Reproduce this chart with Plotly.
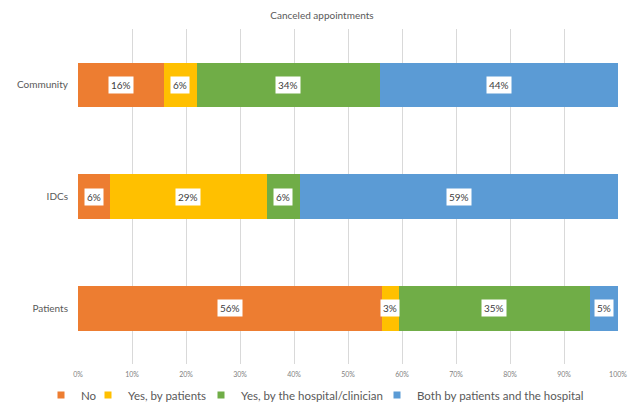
import plotly.graph_objects as go

categories = ["Community", "IDCs", "Patients"]
series_names = ["No", "Yes, by patients", "Yes, by the hospital/clinician",
                "Both by patients and the hospital"]
no_vals = [15.9, 5.9, 56.3]
yes_patients_vals = [6.1, 29.1, 3.1]
yes_hospital_vals = [33.9, 6.1, 35.4]
both_vals = [44.1, 58.9, 5.2]
series_values = [no_vals, yes_patients_vals, yes_hospital_vals, both_vals]
colors = ["#ED7D31", "#FFC000", "#70AD47", "#5B9BD5"]
tick_vals = list(range(0, 101, 10))
tick_labels = [f"{v}%" for v in tick_vals]

FONT = "Lato"
# the page body adds an 8px margin, so the figure is sized to fit the window
W, H = 628, 395

# one legend per series so each entry can sit where the reference places it
legend_ids = ["legend", "legend2", "legend3", "legend4"]
legend_left_px = [33, 80, 193, 369]

fig = go.Figure()
for name, vals, col in zip(series_names, series_values, colors):
    fig.add_trace(go.Bar(
        y=categories, x=vals, name=name, orientation="h",
        marker=dict(color=col, line=dict(width=0)),
        showlegend=False, hoverinfo="x+name",
    ))
# legend entries with small square markers
for name, col, lid in zip(series_names, colors, legend_ids):
    fig.add_trace(go.Scatter(
        x=[None], y=[None], mode="markers", name=name,
        marker=dict(symbol="square", size=7, color=col),
        showlegend=True, legend=lid,
    ))

# data labels in white boxes, placed at the centre of each segment
annotations = []
for ci, cat in enumerate(categories):
    start = 0.0
    for vals in series_values:
        v = vals[ci]
        annotations.append(dict(
            x=start + v / 2, y=cat, xref="x", yref="y",
            text=f"{round(v)}%", showarrow=False,
            bgcolor="white", borderpad=2,
            font=dict(family=FONT, size=10, color="#404040"),
        ))
        start += v

legend_layout = {}
for lid, left in zip(legend_ids, legend_left_px):
    legend_layout[lid] = dict(
        orientation="h", xref="container", yref="container",
        x=left / W, xanchor="left", y=1 - 387 / H, yanchor="middle",
        bgcolor="rgba(0,0,0,0)",
        font=dict(family=FONT, size=11.5, color="#595959"),
        itemwidth=30, tracegroupgap=0,
    )

fig.update_layout(
    width=W, height=H,
    barmode="stack", bargap=0.6,
    plot_bgcolor="white", paper_bgcolor="white",
    margin=dict(l=70, r=18, t=20.5, b=38.5, autoexpand=False),
    title=dict(text="Canceled appointments", x=0.5, xref="container", xanchor="center",
               y=1 - 7 / H, yref="container", yanchor="middle",
               font=dict(family=FONT, size=10, color="#595959")),
    xaxis=dict(range=[0, 100], tickvals=tick_vals, ticktext=tick_labels,
               showgrid=True, gridcolor="#D9D9D9", gridwidth=1,
               zeroline=False, showline=False, ticks="",
               tickfont=dict(family=FONT, size=7, color="#7F7F7F"),
               ticklabelstandoff=5, fixedrange=True),
    yaxis=dict(categoryorder="array", categoryarray=categories,
               range=[2.5, -0.5], showgrid=False, zeroline=False,
               showline=False, ticks="", ticklabelstandoff=9,
               tickfont=dict(family=FONT, size=10, color="#595959"),
               fixedrange=True),
    annotations=annotations,
    **legend_layout,
)

fig.write_html("out.html")
